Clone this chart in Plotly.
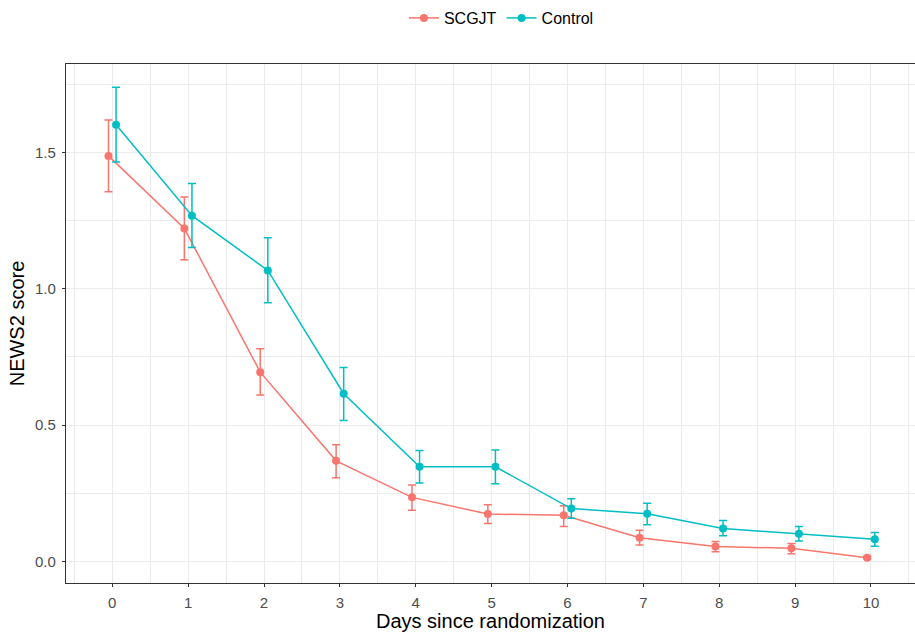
import plotly.graph_objects as go

# ---- data ----
days = [0, 1, 2, 3, 4, 5, 6, 7, 8, 9, 10]

scgjt_mean  = [1.487, 1.221, 0.694, 0.369, 0.235, 0.174, 0.169, 0.087, 0.055, 0.048, 0.014]
scgjt_lower = [1.356, 1.106, 0.610, 0.307, 0.188, 0.139, 0.128, 0.060, 0.036, 0.028, 0.009]
scgjt_upper = [1.619, 1.336, 0.780, 0.428, 0.280, 0.208, 0.204, 0.114, 0.073, 0.066, 0.019]

control_mean  = [1.601, 1.268, 1.067, 0.615, 0.347, 0.347, 0.194, 0.175, 0.121, 0.102, 0.081]
control_lower = [1.465, 1.151, 0.949, 0.517, 0.288, 0.285, 0.158, 0.135, 0.094, 0.075, 0.056]
control_upper = [1.739, 1.386, 1.187, 0.711, 0.407, 0.409, 0.230, 0.213, 0.150, 0.128, 0.106]

x_ticks = [0, 1, 2, 3, 4, 5, 6, 7, 8, 9, 10]
y_ticks = [0.0, 0.5, 1.0, 1.5]
y_tick_labels = ["0.0", "0.5", "1.0", "1.5"]

# ---- styling ----
RED = "#F8766D"
TEAL = "#00BFC4"
DODGE = 0.05
FONT = "Liberation Sans, Arial, Helvetica, sans-serif"
GRID = "#EBEBEB"


def series(name, mean, lower, upper, color, offset):
    return go.Scatter(
        x=[d + offset for d in days],
        y=mean,
        name=name,
        mode="lines+markers",
        line=dict(color=color, width=1.5),
        marker=dict(color=color, size=8),
        error_y=dict(
            type="data",
            symmetric=False,
            array=[u - m for u, m in zip(upper, mean)],
            arrayminus=[m - l for m, l in zip(mean, lower)],
            color=color,
            thickness=1.5,
            width=4,
        ),
    )


fig = go.Figure()
fig.add_trace(series("SCGJT", scgjt_mean, scgjt_lower, scgjt_upper, RED, -DODGE))
fig.add_trace(series("Control", control_mean, control_lower, control_upper, TEAL, DODGE))

fig.update_layout(
    width=915,
    height=632,
    paper_bgcolor="white",
    plot_bgcolor="white",
    margin=dict(l=66, r=0, t=64, b=49),
    font=dict(family=FONT, color="black"),
    showlegend=True,
    legend=dict(
        orientation="h",
        xref="container",
        yref="container",
        x=0.548,
        y=1 - 18 / 632,
        xanchor="center",
        yanchor="middle",
        font=dict(size=16, color="black"),
        itemwidth=30,
        bgcolor="rgba(0,0,0,0)",
    ),
)

fig.update_xaxes(
    range=[-0.61, 10.58],
    tickmode="array",
    tickvals=x_ticks,
    ticktext=[str(t) for t in x_ticks],
    ticks="outside",
    ticklen=3,
    tickwidth=1.1,
    tickcolor="#333333",
    tickfont=dict(size=15, color="#4D4D4D"),
    ticklabelstandoff=3,
    showline=True,
    linecolor="#333333",
    linewidth=1.2,
    mirror=True,
    showgrid=True,
    gridcolor=GRID,
    gridwidth=1.1,
    zeroline=False,
    minor=dict(tick0=0.5, dtick=1, showgrid=True, gridcolor=GRID, gridwidth=0.6, ticks=""),
    title=dict(text="Days since randomization", font=dict(size=20, color="black"), standoff=4),
)

fig.update_yaxes(
    range=[-0.079, 1.824],
    tickmode="array",
    tickvals=y_ticks,
    ticktext=y_tick_labels,
    ticks="outside",
    ticklen=3,
    tickwidth=1.1,
    tickcolor="#333333",
    tickfont=dict(size=15, color="#4D4D4D"),
    ticklabelstandoff=3,
    showline=True,
    linecolor="#333333",
    linewidth=1.2,
    mirror=True,
    showgrid=True,
    gridcolor=GRID,
    gridwidth=1.1,
    zeroline=False,
    minor=dict(tick0=0.25, dtick=0.5, showgrid=True, gridcolor=GRID, gridwidth=0.6, ticks=""),
    title=dict(text="NEWS2 score", font=dict(size=20, color="black"), standoff=5),
)

# remove the browser's default 8px body margin so the figure fills the window exactly
fig.write_html(
    "out.html",
    config={"displayModeBar": False},
    post_script="document.body.style.margin='0';document.body.style.overflow='hidden';",
)
